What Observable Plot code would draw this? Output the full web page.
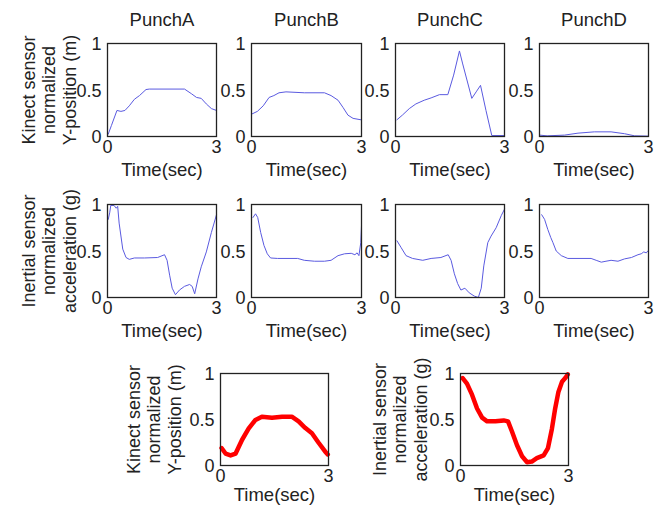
<!DOCTYPE html>
<html>
<head>
<meta charset="utf-8">
<script src="https://cdn.jsdelivr.net/npm/d3@7"></script>
<script src="https://cdn.jsdelivr.net/npm/@observablehq/plot@0.6"></script>
<style>
  html, body { margin: 0; padding: 0; background: #fff; }
  #chart { position: relative; width: 660px; height: 508px; background: #fff; overflow: hidden; }
</style>
</head>
<body>
<div id="chart"></div>
<script>
// ---- Data (time in seconds, normalized value) ----
const punchTitles = ["PunchA", "PunchB", "PunchC", "PunchD"];
const xTicks = [0, 3];
const yTicks = [0, 0.5, 1];
const xLabel = "Time(sec)";
const kinectLabel = "Kinect sensor\nnormalized\nY-position (m)";
const inertialLabel = "Inertial sensor\nnormalized\nacceleration (g)";

const kinectA = [[0.02,0.025],[0.11,0.12],[0.26,0.28],[0.37,0.27],[0.48,0.28],[0.6,0.33],[0.74,0.40],[0.88,0.44],[1.06,0.505],[1.15,0.51],[2.12,0.51],[2.31,0.46],[2.45,0.42],[2.58,0.41],[2.72,0.35],[2.86,0.30],[3.0,0.28]];
const kinectB = [[0.0,0.24],[0.16,0.27],[0.32,0.33],[0.48,0.42],[0.61,0.44],[0.75,0.47],[0.94,0.48],[1.44,0.47],[1.99,0.47],[2.17,0.44],[2.36,0.39],[2.50,0.31],[2.63,0.23],[2.77,0.195],[2.98,0.18]];
const kinectC = [[0.04,0.18],[0.19,0.23],[0.38,0.30],[0.56,0.35],[0.79,0.39],[0.98,0.415],[1.21,0.45],[1.44,0.45],[1.60,0.66],[1.76,0.92],[1.85,0.78],[2.10,0.41],[2.22,0.48],[2.34,0.55],[2.49,0.28],[2.65,0.01],[2.98,0.01]];
const kinectD = [[0.0,0.015],[0.21,0.007],[0.69,0.015],[1.06,0.036],[1.51,0.05],[1.97,0.05],[2.34,0.03],[2.62,0.007],[2.98,0.004]];

const inertialA = [[0.02,0.84],[0.06,0.91],[0.09,0.99],[0.18,0.99],[0.24,0.96],[0.28,0.98],[0.32,0.80],[0.42,0.52],[0.51,0.43],[0.60,0.41],[0.74,0.425],[1.02,0.425],[1.38,0.43],[1.57,0.46],[1.64,0.40],[1.71,0.24],[1.78,0.10],[1.87,0.03],[1.98,0.08],[2.12,0.12],[2.26,0.14],[2.33,0.12],[2.40,0.04],[2.49,0.20],[2.58,0.33],[2.72,0.49],[2.86,0.70],[3.0,0.89]];
const inertialB = [[0.04,0.86],[0.11,0.90],[0.17,0.86],[0.25,0.70],[0.34,0.56],[0.43,0.47],[0.52,0.425],[0.71,0.42],[1.26,0.42],[1.44,0.40],[1.72,0.39],[1.99,0.39],[2.17,0.40],[2.36,0.45],[2.54,0.47],[2.72,0.475],[2.82,0.46],[2.88,0.48],[2.93,0.45],[2.98,0.59],[3.0,0.77]];
const inertialC = [[0.04,0.61],[0.15,0.54],[0.29,0.45],[0.47,0.42],[0.75,0.40],[0.98,0.42],[1.25,0.43],[1.45,0.46],[1.53,0.40],[1.62,0.255],[1.71,0.15],[1.80,0.08],[1.91,0.10],[2.03,0.05],[2.17,0.015],[2.28,0.0],[2.36,0.10],[2.43,0.34],[2.54,0.59],[2.63,0.66],[2.77,0.75],[2.91,0.88],[3.0,0.95]];
const inertialD = [[0.06,0.89],[0.14,0.84],[0.23,0.73],[0.31,0.645],[0.37,0.59],[0.46,0.50],[0.60,0.45],[0.78,0.42],[1.42,0.42],[1.56,0.40],[1.70,0.38],[1.83,0.39],[1.97,0.40],[2.16,0.39],[2.34,0.415],[2.53,0.43],[2.71,0.46],[2.80,0.47],[2.87,0.49],[2.94,0.48],[2.98,0.50]];

const kinectMean = [[0.03,0.19],[0.14,0.13],[0.28,0.11],[0.42,0.13],[0.60,0.28],[0.78,0.40],[0.97,0.495],[1.15,0.53],[1.43,0.52],[1.71,0.53],[1.98,0.53],[2.17,0.48],[2.35,0.41],[2.54,0.35],[2.72,0.25],[2.91,0.15],[2.98,0.12]];
const inertialMean = [[0.06,0.95],[0.18,0.89],[0.32,0.77],[0.46,0.62],[0.60,0.52],[0.74,0.48],[0.97,0.48],[1.20,0.49],[1.32,0.48],[1.43,0.37],[1.57,0.22],[1.71,0.10],[1.85,0.036],[1.98,0.043],[2.12,0.08],[2.31,0.11],[2.43,0.19],[2.54,0.40],[2.63,0.62],[2.72,0.80],[2.82,0.91],[2.91,0.95],[2.98,0.99]];

// ---- Rendering ----
const FONT = "'Liberation Sans', Arial, Helvetica, sans-serif";
const BLUE = "#5a5ae0";
const RED = "#ff0000";
const container = document.getElementById("chart");

function panel(cfg) {
  const {x0, y0, x1, y1, series, color, sw, title, ylabel, ylabelDx, xlabelDy = 34} = cfg;
  const mL = ylabel ? 120 : 40, mR = 15, mT = 45, mB = 45;
  const fw = x1 - x0, fh = y1 - y0;
  const data = series.map(([t, v]) => ({t, v}));
  const marks = [
    Plot.line(data, {x: "t", y: "v", stroke: color, strokeWidth: sw, strokeLinecap: "round", strokeLinejoin: "round"}),
    Plot.frame({stroke: "#222", strokeWidth: 1.3}),
    Plot.axisX({ticks: xTicks, tickSize: 0, tickPadding: 4, fontSize: 18, label: null, tickFormat: d => String(d)}),
    Plot.axisY({ticks: yTicks, tickSize: 0, tickPadding: 6, fontSize: 18, label: null, tickFormat: d => String(d), dy: 1}),
    Plot.text([xLabel], {frameAnchor: "bottom", dy: xlabelDy, fontSize: 18.5, lineAnchor: "middle", textAnchor: "middle", text: d => d})
  ];
  if (title) marks.push(Plot.text([title], {frameAnchor: "top", dy: -23, fontSize: 18.5, lineAnchor: "middle", textAnchor: "middle", text: d => d}));
  if (ylabel) marks.push(Plot.text([ylabel], {frameAnchor: "left", dx: ylabelDx, rotate: -90, fontSize: 18, lineHeight: 1.14, lineAnchor: "middle", textAnchor: "middle", text: d => d}));
  const svg = Plot.plot({
    width: fw + mL + mR, height: fh + mT + mB,
    marginLeft: mL, marginRight: mR, marginTop: mT, marginBottom: mB,
    x: {domain: [0, 3]}, y: {domain: [0, 1]},
    style: {background: "transparent", overflow: "visible", fontFamily: FONT, color: "#222"},
    marks
  });
  svg.style.position = "absolute";
  svg.style.left = (x0 - mL) + "px";
  svg.style.top = (y0 - mT) + "px";
  svg.style.maxWidth = "none";
  container.append(svg);
}

const colX = [[107, 216], [251, 361], [395, 504], [539, 648]];
const kin = [kinectA, kinectB, kinectC, kinectD];
const ine = [inertialA, inertialB, inertialC, inertialD];

colX.forEach(([a, b], i) => {
  panel({x0: a, x1: b, y0: 43, y1: 136, series: kin[i], color: BLUE, sw: 1,
         title: punchTitles[i], ylabel: i === 0 ? kinectLabel : null, ylabelDx: -59});
  panel({x0: a, x1: b, y0: 204, y1: 297, series: ine[i], color: BLUE, sw: 1,
         ylabel: i === 0 ? inertialLabel : null, ylabelDx: -59});
});
panel({x0: 220, x1: 328, y0: 373, y1: 465, series: kinectMean, color: RED, sw: 4.5,
       ylabel: kinectLabel, ylabelDx: -67, xlabelDy: 30});
panel({x0: 460, x1: 568, y0: 373, y1: 465, series: inertialMean, color: RED, sw: 4.5,
       ylabel: inertialLabel, ylabelDx: -61, xlabelDy: 30});
</script>
</body>
</html>
